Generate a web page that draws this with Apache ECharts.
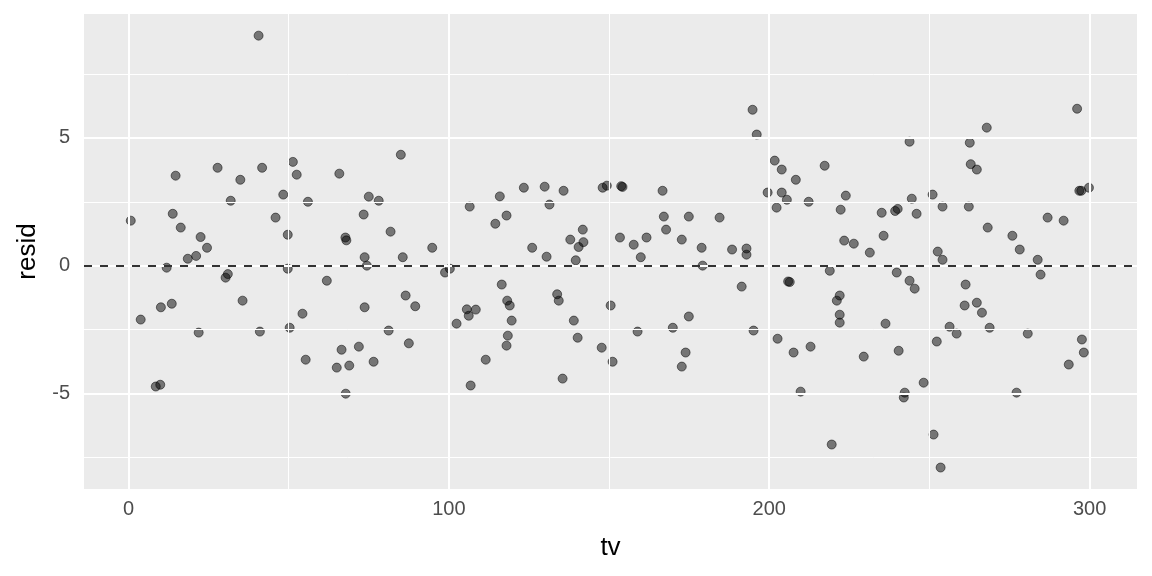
<!DOCTYPE html>
<html>
<head>
<meta charset="utf-8">
<script src="https://cdn.jsdelivr.net/npm/echarts@6/dist/echarts.min.js"></script>
<style>
html,body{margin:0;padding:0;background:#fff;}
#chart{width:1152px;height:576px;}
</style>
</head>
<body>
<div id="chart"></div>
<script>
const tv = [
  40.6, 27.8, 41.7, 14.7, 34.9, 31.9, 0.7, 13.8, 16.3, 22.5, 24.5, 21.1, 18.5, 11.9, 31.0, 30.3, 35.6, 13.5, 10.1, 3.8, 21.9, 41.0, 9.9, 8.5,
  51.3, 52.5, 65.8, 85.0, 48.3, 56.0, 75.0, 78.1, 45.9, 73.4, 49.7, 67.7, 68.0, 81.8, 94.8, 73.7, 85.6, 74.4, 49.7, 61.9, 86.5, 89.5, 73.7, 54.3, 50.3, 81.2, 87.5, 71.9, 66.5, 55.3, 76.5, 68.9, 65.0, 67.8,
  98.8, 100.3, 106.5, 115.9, 123.4, 129.9, 135.8, 131.4, 118.0, 114.5, 148.0, 149.3, 141.8, 137.9, 142.0, 140.5, 126.0, 130.5, 139.6, 116.5, 133.8, 134.3, 118.2, 119.0, 105.6, 108.4, 106.2, 150.5, 102.4, 119.6, 139.0, 118.4, 118.0, 140.2, 147.7, 151.1, 111.5, 135.5, 106.8,
  153.8, 154.2, 166.7, 153.4, 157.7, 161.7, 159.9, 167.1, 167.8, 174.9, 172.7, 184.5, 178.9, 179.2, 188.4, 192.9, 192.9, 194.8, 196.1, 201.7, 203.9, 199.5, 203.9, 205.5, 202.3, 191.4, 205.9, 206.4, 158.9, 169.9, 174.9, 173.9, 172.7, 195.1, 202.6, 207.6,
  208.3, 217.3, 212.3, 223.9, 222.3, 243.8, 235.1, 239.3, 240.1, 244.5, 246.0, 251.0, 254.1, 223.4, 226.4, 235.7, 231.4, 252.6, 254.1, 218.9, 239.8, 243.8, 245.4, 222.0, 221.1, 222.0, 222.0, 236.3, 212.9, 229.5, 240.4, 209.8, 242.3, 242.0, 248.2, 219.5, 251.3, 253.5, 252.3, 256.3, 258.5, 261.3, 261.0,
  267.9, 262.6, 262.9, 264.8, 262.3, 268.2, 296.1, 296.8, 297.4, 299.8, 286.9, 291.9, 275.9, 278.2, 283.8, 284.7, 264.8, 266.4, 268.8, 280.7, 297.6, 298.2, 293.5, 277.2
];
const resid = [
  9.00, 3.83, 3.83, 3.52, 3.36, 2.54, 1.76, 2.03, 1.49, 1.12, 0.70, 0.38, 0.27, -0.08, -0.33, -0.47, -1.37, -1.49, -1.63, -2.11, -2.62, -2.58, -4.66, -4.73,
  4.06, 3.56, 3.60, 4.34, 2.78, 2.50, 2.70, 2.54, 1.88, 2.00, 1.21, 1.10, 0.99, 1.33, 0.70, 0.33, 0.33, 0.00, -0.12, -0.59, -1.17, -1.59, -1.63, -1.88, -2.43, -2.54, -3.04, -3.17, -3.29, -3.68, -3.76, -3.91, -3.99, -5.01,
  -0.27, -0.12, 2.31, 2.71, 3.05, 3.09, 2.93, 2.39, 1.96, 1.64, 3.05, 3.13, 1.41, 1.02, 0.92, 0.73, 0.70, 0.35, 0.21, -0.74, -1.12, -1.37, -1.37, -1.56, -1.71, -1.72, -1.96, -1.56, -2.27, -2.15, -2.15, -2.74, -3.13, -2.82, -3.21, -3.76, -3.68, -4.42, -4.69,
  3.11, 3.08, 2.93, 1.10, 0.82, 1.10, 0.33, 1.92, 1.41, 1.92, 1.02, 1.88, 0.70, 0.00, 0.63, 0.67, 0.43, 6.10, 5.13, 4.11, 3.76, 2.86, 2.86, 2.58, 2.27, -0.82, -0.62, -0.64, -2.58, -2.43, -1.99, -3.40, -3.95, -2.54, -2.86, -3.40,
  3.36, 3.91, 2.50, 2.74, 2.19, 4.85, 2.07, 2.14, 2.22, 2.62, 2.03, 2.78, 2.31, 0.98, 0.86, 1.17, 0.51, 0.55, 0.23, -0.20, -0.27, -0.59, -0.90, -1.17, -1.37, -1.92, -2.23, -2.27, -3.17, -3.56, -3.33, -4.93, -4.97, -5.16, -4.58, -7.00, -6.61, -7.90, -2.97, -2.39, -2.66, -0.74, -1.56,
  5.40, 4.81, 3.97, 3.76, 2.31, 1.49, 6.14, 2.93, 2.93, 3.05, 1.88, 1.76, 1.17, 0.63, 0.23, -0.35, -1.45, -1.84, -2.43, -2.66, -2.89, -3.40, -3.87, -4.97
];
const xTicks = [0, 100, 200, 300];
const xMinorTicks = [50, 150, 250];
const yTicks = [-5, 0, 5];
const yMinorTicks = [-7.5, -2.5, 2.5, 7.5];
const refLineY = 0;

const points = tv.map((x, i) => [x, resid[i]]);

const FONT = "'Liberation Sans', Arial, sans-serif";

function gridLines(xs, ys, width) {
  const d = [];
  xs.forEach(v => d.push({ xAxis: v }));
  ys.forEach(v => d.push({ yAxis: v }));
  return {
    type: 'scatter', data: [], z: 1, silent: true,
    markLine: {
      silent: true, symbol: ['none', 'none'], animation: false,
      label: { show: false },
      lineStyle: { color: '#FFFFFF', width: width, type: 'solid' },
      emphasis: { disabled: true },
      data: d
    }
  };
}

const chart = echarts.init(document.getElementById('chart'), null, { renderer: 'canvas' });
chart.setOption({
  animation: false,
  backgroundColor: '#FFFFFF',
  grid: {
    left: 84, right: 15, top: 14, bottom: 87,
    show: true, backgroundColor: '#EBEBEB', borderWidth: 0
  },
  xAxis: {
    type: 'value', min: -13.9, max: 314.8,
    name: 'tv', nameLocation: 'middle', nameGap: 46,
    nameTextStyle: { fontFamily: FONT, fontSize: 26, color: '#000000' },
    axisLine: { show: false },
    axisTick: { show: true, length: 6, customValues: xTicks, lineStyle: { color: '#333333', width: 1.5 } },
    axisLabel: { customValues: xTicks, margin: 10, fontFamily: FONT, fontSize: 20, color: '#4D4D4D' },
    splitLine: { show: false }
  },
  yAxis: {
    type: 'value', min: -8.74, max: 9.847,
    name: 'resid', nameLocation: 'middle', nameGap: 40,
    nameTextStyle: { fontFamily: FONT, fontSize: 26, color: '#000000' },
    axisLine: { show: false },
    axisTick: { show: true, length: 6, customValues: yTicks, lineStyle: { color: '#333333', width: 1.5 } },
    axisLabel: { customValues: yTicks, margin: 14, fontFamily: FONT, fontSize: 20, color: '#4D4D4D' },
    splitLine: { show: false }
  },
  series: [
    gridLines(xMinorTicks, yMinorTicks, 1),
    gridLines(xTicks, yTicks, 2),
    {
      type: 'scatter', data: [], z: 2, silent: true,
      markLine: {
        silent: true, symbol: ['none', 'none'], animation: false,
        label: { show: false },
        lineStyle: { color: '#000000', width: 1.6, type: [8, 8] },
        emphasis: { disabled: true },
        data: [{ yAxis: refLineY }]
      }
    },
    {
      type: 'scatter', z: 3,
      data: points,
      symbol: 'circle', symbolSize: 9,
      itemStyle: { color: 'rgba(0,0,0,0.5)', borderColor: 'rgba(0,0,0,0.5)', borderWidth: 1, opacity: 1 },
      emphasis: { disabled: true }
    }
  ]
});
</script>
</body>
</html>
